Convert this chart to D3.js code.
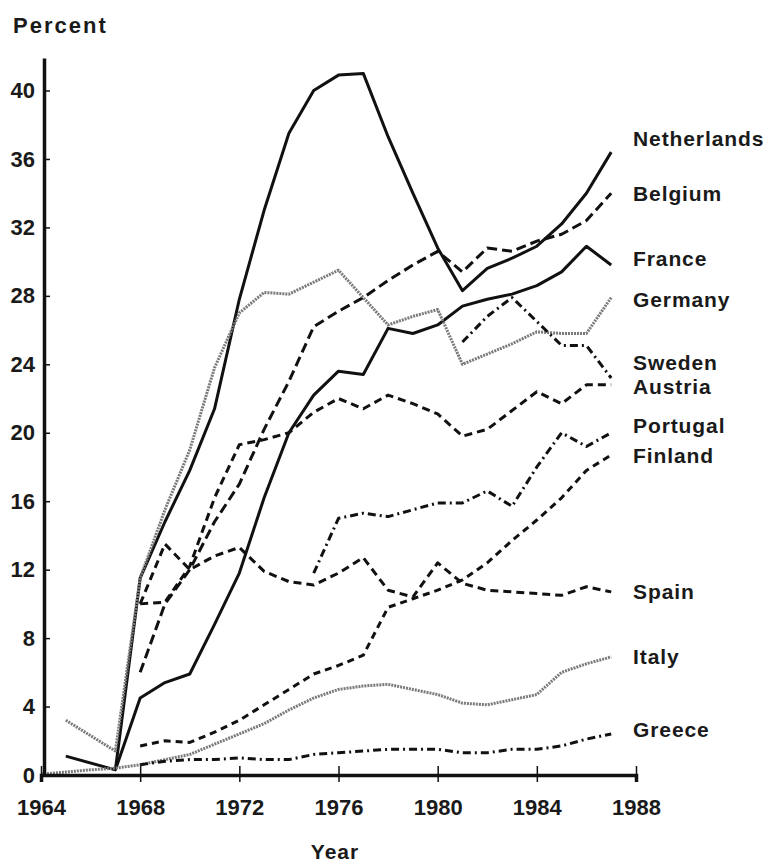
<!DOCTYPE html>
<html>
<head>
<meta charset="utf-8">
<script src="https://cdn.jsdelivr.net/npm/d3@7"></script>
<style>
  body { margin: 0; background: #fff; }
  text { font-family: "Liberation Sans", Arial, sans-serif; font-weight: bold; fill: #1a1a1a; }
  .axis path, .axis line { stroke: #111; }
</style>
</head>
<body>
<svg id="chart" width="771" height="868"></svg>
<script>
// Data (percent, by year; null = no point)
const years = [1964, 1965, 1966, 1967, 1968, 1969, 1970, 1971, 1972, 1973, 1974, 1975,
               1976, 1977, 1978, 1979, 1980, 1981, 1982, 1983, 1984, 1985, 1986, 1987];

const netherlands = [null, null, null, 0.3, 11.5, 14.8, 17.8, 21.4, 27.8, 33.0, 37.5, 40.0,
                     40.9, 41.0, 37.3, 34.0, 30.8, 28.3, 29.6, 30.2, 30.9, 32.2, 34.0, 36.4];
const belgium     = [null, null, null, null, 6.0, 10.0, 12.0, 14.8, 17.0, 20.2, 23.0, 26.2,
                     27.1, 27.9, 28.9, 29.8, 30.6, 29.4, 30.8, 30.6, 31.2, 31.6, 32.4, 34.0];
const france      = [null, 1.1, null, 0.3, 4.5, 5.4, 5.9, 8.8, 11.8, 16.2, 20.0, 22.2,
                     23.6, 23.4, 26.1, 25.8, 26.3, 27.4, 27.8, 28.1, 28.6, 29.4, 30.9, 29.8];
const germany     = [null, 3.2, null, 1.4, 11.5, 15.5, 19.0, 23.8, 27.0, 28.2, 28.1, 28.8,
                     29.5, 27.9, 26.3, 26.8, 27.2, 24.0, 24.6, 25.2, 25.9, 25.8, 25.8, 27.9];
const sweden      = [null, null, null, null, null, null, null, null, null, null, null, null,
                     null, null, null, null, null, 25.3, 26.8, 27.9, 26.5, 25.1, 25.1, 23.2];
const austria     = [null, null, null, null, 10.0, 10.1, 12.2, 16.2, 19.3, 19.6, 20.0, 21.2,
                     22.0, 21.4, 22.2, 21.7, 21.1, 19.8, 20.2, 21.3, 22.4, 21.7, 22.8, 22.8];
const portugal    = [null, null, null, null, null, null, null, null, null, null, null, 11.8,
                     15.0, 15.3, 15.1, 15.5, 15.9, 15.9, 16.6, 15.7, 18.0, 20.0, 19.2, 20.0];
const finland     = [null, null, null, null, 1.7, 2.0, 1.9, 2.5, 3.2, 4.1, 5.0, 5.9,
                     6.4, 7.0, 9.8, 10.3, 10.8, 11.4, 12.4, 13.7, 14.9, 16.2, 17.8, 18.7];
const spain       = [null, null, null, null, 10.0, 13.5, 12.0, 12.8, 13.3, 11.9, 11.3, 11.1,
                     11.8, 12.7, 10.8, 10.4, 12.4, 11.2, 10.8, 10.7, 10.6, 10.5, 11.0, 10.7];
const italy       = [0.05, null, 0.3, 0.4, 0.6, 0.9, 1.2, 1.8, 2.4, 3.0, 3.8, 4.5,
                     5.0, 5.2, 5.3, 5.0, 4.7, 4.2, 4.1, 4.4, 4.7, 6.0, 6.5, 6.9];
const greece      = [null, null, null, null, 0.6, 0.8, 0.9, 0.9, 1.0, 0.9, 0.9, 1.2,
                     1.3, 1.4, 1.5, 1.5, 1.5, 1.3, 1.3, 1.5, 1.5, 1.7, 2.1, 2.4];

const countries = ["Netherlands", "Belgium", "France", "Germany", "Sweden", "Austria",
                   "Portugal", "Finland", "Spain", "Italy", "Greece"];
// where each name sits on the right, in percent units
const labelValues = [37.2, 34.0, 30.2, 27.8, 24.1, 22.7, 20.4, 18.7, 10.7, 6.9, 2.65];

const xTicks = [1964, 1968, 1972, 1976, 1980, 1984, 1988];
const yTicks = [0, 4, 8, 12, 16, 20, 24, 28, 32, 36, 40];

// line styles per country
const styles = {
  Netherlands: { stroke: "#111", dash: null },
  Belgium:     { stroke: "#111", dash: "10,5" },
  France:      { stroke: "#111", dash: null },
  Germany:     { stroke: "#7a7a7a", dash: "2,1" },
  Sweden:      { stroke: "#111", dash: "8,4,2,4" },
  Austria:     { stroke: "#111", dash: "8,5" },
  Portugal:    { stroke: "#111", dash: "8,4,2,4" },
  Finland:     { stroke: "#111", dash: "7,5" },
  Spain:       { stroke: "#111", dash: "8,5" },
  Italy:       { stroke: "#7a7a7a", dash: "2,1" },
  Greece:      { stroke: "#111", dash: "8,4,2,4" }
};

const seriesValues = [netherlands, belgium, france, germany, sweden, austria,
                      portugal, finland, spain, italy, greece];

const series = countries.map((name, i) => ({
  name,
  label: labelValues[i],
  points: years
    .map((yr, j) => ({ year: yr, value: seriesValues[i][j] }))
    .filter(d => d.value != null)
}));

// Scales
const xScale = d3.scaleLinear().domain([1964, 1988]).range([41, 636]);
const yScale = d3.scaleLinear().domain([0, 41.9]).range([775, 58]);

const svg = d3.select("#chart");

// Lines
const line = d3.line()
  .x(d => xScale(d.year))
  .y(d => yScale(d.value));

svg.append("g")
  .selectAll("path")
  .data(series)
  .join("path")
    .attr("d", d => line(d.points))
    .attr("fill", "none")
    .attr("stroke", d => styles[d.name].stroke)
    .attr("stroke-width", 3)
    .attr("stroke-linejoin", "round")
    .attr("stroke-dasharray", d => styles[d.name].dash);

// Bottom axis — ticks cross the line
const bottomAxis = d3.axisBottom(xScale)
  .tickValues(xTicks)
  .tickFormat(d3.format("d"))
  .tickSizeOuter(0)
  .tickSize(7)
  .tickPadding(17);

const gx = svg.append("g")
  .attr("class", "axis axis--x")
  .attr("transform", `translate(0, ${yScale(0)})`)
  .call(bottomAxis);
gx.select(".domain").attr("stroke-width", 3.5);
gx.selectAll(".tick line").attr("y1", -9).attr("stroke-width", 1.5);
gx.selectAll(".tick text").style("font-size", "22px");

// Left axis — small ticks pointing inward
const leftAxis = d3.axisLeft(yScale)
  .tickValues(yTicks)
  .tickSizeOuter(0)
  .tickSizeInner(-6)
  .tickPadding(9);

const gy = svg.append("g")
  .attr("class", "axis axis--y")
  .attr("transform", `translate(${xScale(1964) + 3}, 0)`)
  .call(leftAxis);
gy.select(".domain").attr("stroke-width", 3.5);
gy.selectAll(".tick line").attr("stroke-width", 1.5);
gy.selectAll(".tick text").style("font-size", "22px");

// Country names on the right
svg.append("g")
  .selectAll("text")
  .data(series)
  .join("text")
    .attr("x", 633)
    .attr("y", d => yScale(d.label))
    .attr("dy", "0.36em")
    .style("font-size", "21px")
    .style("letter-spacing", "0.9px")
    .text(d => d.name);

// Axis titles
svg.append("text")
  .text("Percent")
  .attr("x", 13)
  .attr("y", 33)
  .style("font-size", "22px")
  .style("letter-spacing", "2px");

svg.append("text")
  .text("Year")
  .attr("x", 335)
  .attr("y", 859)
  .attr("text-anchor", "middle")
  .style("font-size", "21px")
  .style("letter-spacing", "1px");
</script>
</body>
</html>
